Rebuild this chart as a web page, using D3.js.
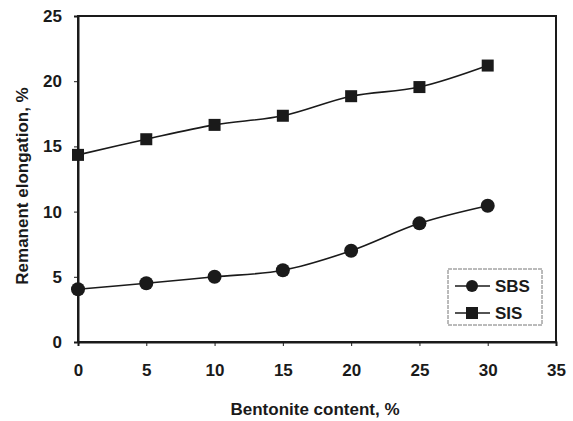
<!DOCTYPE html>
<html><head><meta charset="utf-8">
<script src="https://cdn.jsdelivr.net/npm/d3@7"></script>
<style>body{margin:0;background:#fff}svg{display:block}text{font-family:"Liberation Sans",Arial,sans-serif;font-weight:bold;fill:#1a1a1a}</style>
</head><body><svg id="c" width="573" height="421"></svg>
<script>
const bentonite = [0, 5, 10, 15, 20, 25, 30];
const sbs = [4.05, 4.5, 5.0, 5.5, 7.0, 9.1, 10.45];
const sis = [14.35, 15.55, 16.65, 17.35, 18.85, 19.55, 21.2];
const xTicks = [0, 5, 10, 15, 20, 25, 30, 35];
const yTicks = [0, 5, 10, 15, 20, 25];
const seriesNames = ["SBS", "SIS"];

const svg = d3.select("#c");
const m = {l: 78, r: 556, t: 16, b: 342};
const x = d3.scaleLinear().domain([0, 35]).range([m.l, m.r]);
const y = d3.scaleLinear().domain([0, 25]).range([m.b, m.t]);
const ink = "#1a1a1a";

// frame
svg.append("rect").attr("x", m.l).attr("y", m.t).attr("width", m.r - m.l).attr("height", m.b - m.t)
  .attr("fill", "none").attr("stroke", ink).attr("stroke-width", 2);

const xa = svg.append("g").attr("transform", `translate(0,${m.b})`)
  .call(d3.axisBottom(x).tickValues(xTicks).tickSize(4).tickPadding(18).tickFormat(d3.format("d")));
const ya = svg.append("g").attr("transform", `translate(${m.l},0)`)
  .call(d3.axisLeft(y).tickValues(yTicks).tickSize(4).tickPadding(12).tickFormat(d3.format("d")));
[xa, ya].forEach(a => {
  a.select(".domain").attr("stroke", ink).attr("stroke-width", 2);
  a.selectAll(".tick line").attr("stroke", ink).attr("stroke-width", 1);
  a.selectAll(".tick text").attr("font-size", 17).attr("font-family", "Liberation Sans, Arial, sans-serif").attr("font-weight", "bold").attr("fill", ink);
});

svg.append("text").attr("x", 315).attr("y", 415).attr("text-anchor", "middle").attr("font-size", 17)
  .text("Bentonite content, %");
svg.append("text").attr("transform", "translate(28,186) rotate(-90)").attr("text-anchor", "middle").attr("font-size", 17)
  .text("Remanent elongation, %");

const line = d3.line().x((d, i) => x(bentonite[i])).y(d => y(d)).curve(d3.curveCatmullRom.alpha(0.5));
[sbs, sis].forEach(s => {
  svg.append("path").attr("d", line(s)).attr("fill", "none").attr("stroke", ink).attr("stroke-width", 1.6);
});
svg.selectAll(".c").data(sbs).enter().append("circle")
  .attr("cx", (d, i) => x(bentonite[i])).attr("cy", d => y(d)).attr("r", 7).attr("fill", ink);
const sq = 12;
svg.selectAll(".s").data(sis).enter().append("rect")
  .attr("x", (d, i) => x(bentonite[i]) - sq / 2).attr("y", d => y(d) - sq / 2)
  .attr("width", sq).attr("height", sq).attr("fill", ink);

// legend
const lg = svg.append("g");
lg.append("rect").attr("x", 448).attr("y", 269).attr("width", 94).attr("height", 56)
  .attr("fill", "#fff").attr("stroke", "#777").attr("stroke-width", 1).attr("stroke-dasharray", "4,1");
seriesNames.forEach((n, i) => {
  const ly = 286 + i * 27;
  lg.append("line").attr("x1", 455).attr("x2", 490).attr("y1", ly).attr("y2", ly).attr("stroke", ink).attr("stroke-width", 1.6);
  if (i === 0) lg.append("circle").attr("cx", 472).attr("cy", ly).attr("r", 6).attr("fill", ink);
  else lg.append("rect").attr("x", 466).attr("y", ly - 6).attr("width", 12).attr("height", 12).attr("fill", ink);
  lg.append("text").attr("x", 495).attr("y", ly + 6).attr("font-size", 17).text(n);
});
</script></body></html>
